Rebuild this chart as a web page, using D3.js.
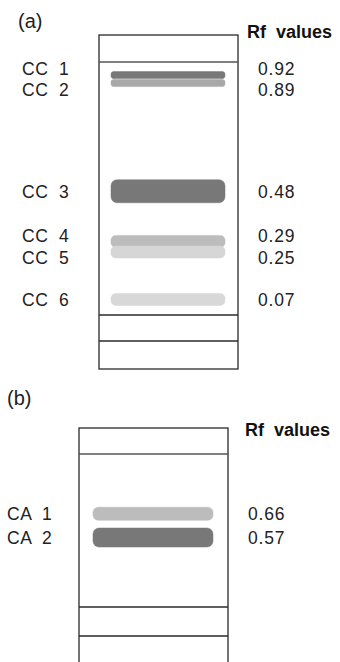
<!DOCTYPE html>
<html>
<head>
<meta charset="utf-8">
<script src="https://cdn.jsdelivr.net/npm/d3@7"></script>
<style>
  html, body { margin: 0; padding: 0; background: #fff; }
  svg text { font-family: "Liberation Sans", Arial, sans-serif; fill: #222; white-space: pre; }
</style>
</head>
<body>
<svg id="chart"></svg>
<script>
// data
const ccNames = ["CC  1", "CC  2", "CC  3", "CC  4", "CC  5", "CC  6"];
const ccRf = [0.92, 0.89, 0.48, 0.29, 0.25, 0.07];
const caNames = ["CA  1", "CA  2"];
const caRf = [0.66, 0.57];
const panelTags = ["(a)", "(b)"];
const columnTitle = "Rf  values";

// band looks (grey level + thickness), kept apart from the data
const ccShade = ["#787878", "#a9a9a9", "#787878", "#bcbcbc", "#d6d6d6", "#d8d8d8"];
const ccThick = [7, 7, 23, 12, 12, 12];
const caShade = ["#bcbcbc", "#787878"];
const caThick = [13, 19];

const width = 340, height = 662;

const panels = [
    { tag: panelTags[0], names: ccNames, rf: ccRf, shade: ccShade, thick: ccThick,
      x0: 99, x1: 238, top: 35, lines: [62, 315, 341], bottom: 369, yRange: [318, 54],
      inset: [12, 13], labelX: 22, valueX: 258, titleX: 247, titleY: 38, tagX: 18, tagY: 28 },
    { tag: panelTags[1], names: caNames, rf: caRf, shade: caShade, thick: caThick,
      x0: 79, x1: 228, top: 428, lines: [454, 607, 636], bottom: 668, yRange: [688, 424],
      inset: [14, 15], labelX: 7, valueX: 248, titleX: 245, titleY: 436, tagX: 7, tagY: 405 }
];

const svg = d3.select('#chart')
    .attr('width', width)
    .attr('height', height);

// push labels apart so neighbouring ones don't overlap
function spread(ys, gap) {
    const out = ys.slice();
    for (let k = 0; k < 30; k++) {
        for (let i = 1; i < out.length; i++) {
            const d = out[i] - out[i - 1];
            if (d < gap) {
                out[i - 1] -= (gap - d) / 2;
                out[i] += (gap - d) / 2;
            }
        }
    }
    return out;
}

panels.forEach(p => {
    const g = svg.append('g');

    // Rf -> vertical position on the plate
    const y = d3.scaleLinear().domain([0, 1]).range(p.yRange);

    // plate outline and the front / origin lines
    g.append('rect')
        .attr('x', p.x0).attr('y', p.top)
        .attr('width', p.x1 - p.x0).attr('height', p.bottom - p.top)
        .attr('fill', 'none')
        .attr('stroke', '#2a2a2a')
        .attr('stroke-width', 1.3);

    g.selectAll('line.plate')
        .data(p.lines)
        .join('line')
        .attr('class', 'plate')
        .attr('x1', p.x0).attr('x2', p.x1)
        .attr('y1', d => d).attr('y2', d => d)
        .attr('stroke', (d, i) => i === 0 ? '#555' : '#2a2a2a')
        .attr('stroke-width', 1.4);

    // spots
    g.selectAll('rect.band')
        .data(p.rf)
        .join('rect')
        .attr('class', 'band')
        .attr('x', p.x0 + p.inset[0])
        .attr('width', (p.x1 - p.inset[1]) - (p.x0 + p.inset[0]))
        .attr('y', (d, i) => y(d) - p.thick[i] / 2)
        .attr('height', (d, i) => p.thick[i])
        .attr('rx', (d, i) => Math.min(6, p.thick[i] / 2.5))
        .attr('fill', (d, i) => p.shade[i])
        .attr('stroke', (d, i) => p.shade[i])
        .attr('stroke-opacity', 0.5)
        .attr('stroke-width', 1);

    const labelY = spread(p.rf.map(d => y(d)), 21.5);

    g.selectAll('text.name')
        .data(p.names)
        .join('text')
        .attr('class', 'name')
        .attr('x', p.labelX)
        .attr('y', (d, i) => labelY[i])
        .attr('dy', '0.36em')
        .attr('font-size', 17.5)
        .attr('letter-spacing', 0.5)
        .text(d => d);

    g.selectAll('text.value')
        .data(p.rf)
        .join('text')
        .attr('class', 'value')
        .attr('x', p.valueX)
        .attr('y', (d, i) => labelY[i])
        .attr('dy', '0.36em')
        .attr('font-size', 17.5)
        .attr('letter-spacing', 0.8)
        .text(d => d3.format('.2f')(d));

    g.append('text')
        .attr('x', p.titleX).attr('y', p.titleY)
        .attr('font-size', 18)
        .attr('font-weight', 'bold')
        .style('fill', '#111')
        .text(columnTitle);

    g.append('text')
        .attr('x', p.tagX).attr('y', p.tagY)
        .attr('font-size', 20)
        .text(p.tag);
});
</script>
</body>
</html>
